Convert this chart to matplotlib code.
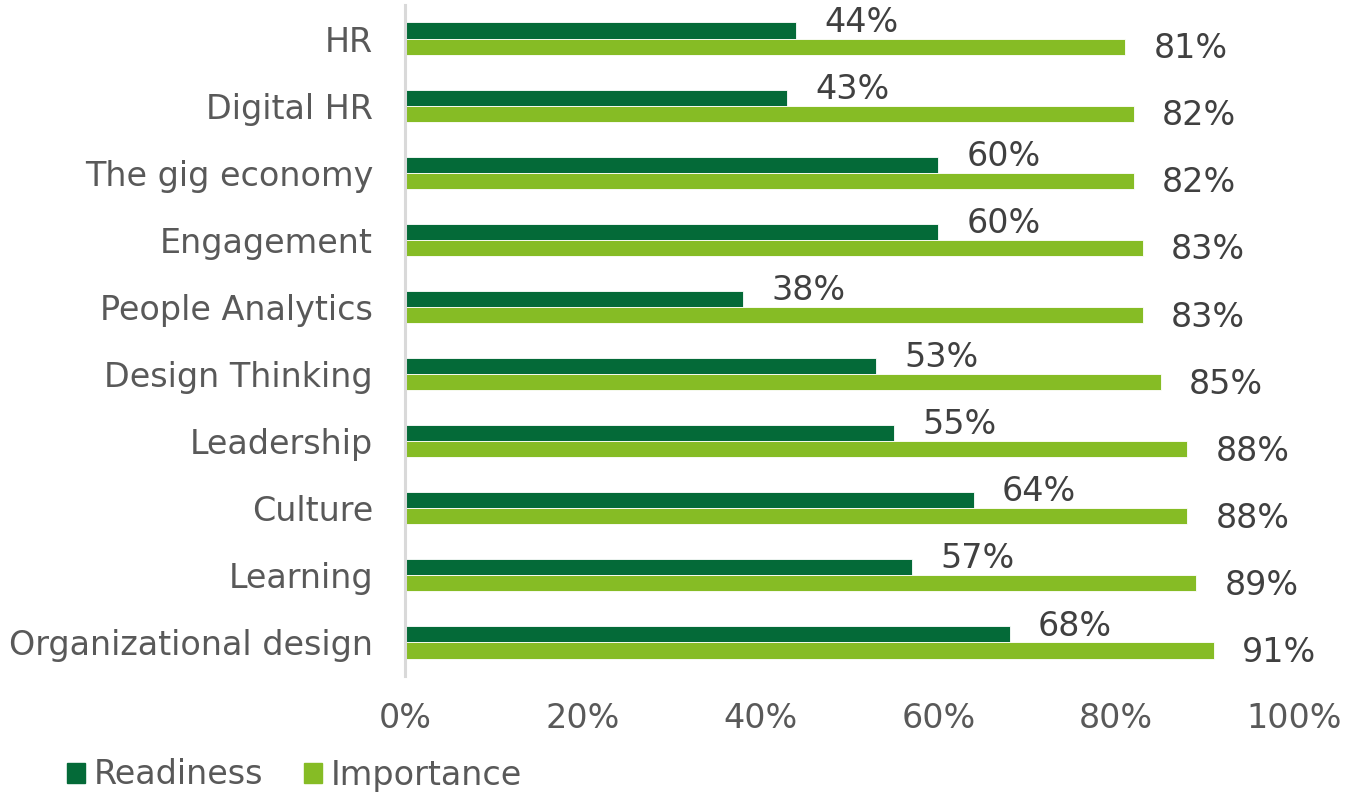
import matplotlib
matplotlib.use("Agg")
import matplotlib.pyplot as plt
from matplotlib.patches import Patch
import numpy as np

categories = ["HR", "Digital HR", "The gig economy", "Engagement", "People Analytics",
              "Design Thinking", "Leadership", "Culture", "Learning", "Organizational design"]
readiness = [44, 43, 60, 60, 38, 53, 55, 64, 57, 68]
importance = [81, 82, 82, 83, 83, 85, 88, 88, 89, 91]
xticks = [0, 20, 40, 60, 80, 100]
xticklabels = ["0%", "20%", "40%", "60%", "80%", "100%"]

dark = "#046A38"
light = "#86BC25"
txt_grey = "#595959"
val_grey = "#404040"
FS = 24

plt.rcParams['font.family'] = 'sans-serif'
plt.rcParams['font.sans-serif'] = ['DejaVu Sans']
fig = plt.figure(figsize=(13.45, 7.97), dpi=100)
ax = fig.add_axes([405/1345, 1 - 676/797, (1294 - 405)/1345, (676 - 5)/797])

n = len(categories)
y = np.arange(n)[::-1]  # HR at top
h = 0.24
ax.barh(y + h/2, readiness, height=h, color=dark, edgecolor="white", linewidth=0.6, label="Readiness")
ax.barh(y - h/2, importance, height=h, color=light, edgecolor="white", linewidth=0.6, label="Importance")

for yi, r, imp in zip(y, readiness, importance):
    ax.annotate(f"{r}%", (r, yi + h/2), xytext=(47, 6), textcoords="offset points",
                ha="center", va="center", fontsize=FS, color=val_grey)
    ax.annotate(f"{imp}%", (imp, yi - h/2), xytext=(47, -1.5), textcoords="offset points",
                ha="center", va="center", fontsize=FS, color=val_grey)

ax.set_xlim(0, 100)
ax.set_ylim(-0.5, n - 0.5)
ax.set_yticks(y)
ax.set_yticklabels(categories, fontsize=FS, color=txt_grey)
ax.set_xticks(xticks)
ax.set_xticklabels(xticklabels, fontsize=FS, color=txt_grey)
ax.tick_params(axis="y", length=0, pad=23)
ax.tick_params(axis="x", length=0, pad=19)
for s in ["top", "right", "bottom"]:
    ax.spines[s].set_visible(False)
ax.spines["left"].set_color("#D9D9D9")
ax.spines["left"].set_linewidth(2.2)

handles = [Patch(color=dark, label="Readiness"), Patch(color=light, label="Importance")]
fig.legend(handles=handles, loc="center left", bbox_to_anchor=(50/1345, 1 - 775/797),
           frameon=False, fontsize=FS, labelcolor=txt_grey, ncol=2, borderpad=0,
           handlelength=0.54, handleheight=0.54, handletextpad=0.27, columnspacing=1.23)

fig.savefig("out.png", dpi=100)
